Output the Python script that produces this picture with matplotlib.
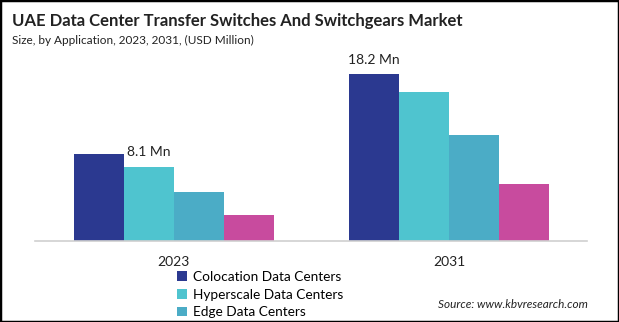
import matplotlib.pyplot as plt
import matplotlib.patches as mpatches
import numpy as np

# données
years = ['2023', '2031']
segments = ['Colocation Data Centers', 'Hyperscale Data Centers', 'Edge Data Centers', 'Others']
colocation = [9.5, 18.2]
hyperscale = [8.1, 16.2]
edge = [5.3, 11.6]
others = [2.8, 6.2]
colors = ['#2B3990', '#4FC4CF', '#4BACC6', '#C84B9E']

plt.rcParams['font.family'] = ['Lato', 'DejaVu Sans']

fig = plt.figure(figsize=(6.19, 3.22), dpi=100)
W, H = 619, 322
ax = fig.add_axes([35 / W, 1 - 241 / H, (587 - 35) / W, (241 - 60) / H])

x = np.arange(len(years))
w = 0.1815
series = [colocation, hyperscale, edge, others]
bars = []
for i, vals in enumerate(series):
    b = ax.bar(x + (i - 1.5) * w, vals, width=w, color=colors[i], label=segments[i])
    bars.append(b)

ax.set_xlim(-0.503, 1.501)
ax.set_ylim(0, 181 * 18.2 / 167)

# étiquettes de valeur (comme sur l'original)
ax.annotate('8.1 Mn', (x[0] - 0.5 * w, hyperscale[0]), xytext=(0, 6), textcoords='offset points',
            ha='center', va='bottom', fontsize=10, color='#222222')
ax.annotate('18.2 Mn', (x[1] - 1.5 * w, colocation[1]), xytext=(0, 6), textcoords='offset points',
            ha='center', va='bottom', fontsize=10, color='#222222')

for s in ['top', 'right', 'left']:
    ax.spines[s].set_visible(False)
ax.spines['bottom'].set_color('#D0D0D0')
ax.spines['bottom'].set_linewidth(1.2)
ax.set_yticks([])
ax.set_xticks(x)
ax.set_xticklabels(years, fontsize=10, color='#222222')
ax.tick_params(axis='x', length=0, pad=11)

fig.text(12 / W, 1 - 21 / H, 'UAE Data Center Transfer Switches And Switchgears Market',
         fontsize=12, fontweight='bold', color='#222222', va='center', ha='left')
fig.text(12 / W, 1 - 40 / H, 'Size, by Application, 2023, 2031, (USD Million)',
         fontsize=8.5, color='#222222', va='center', ha='left')

fig.legend(handles=bars[:3], labels=segments[:3], loc='upper left',
           bbox_to_anchor=(177 / W, 1 - 271 / H), frameon=False, fontsize=9.8,
           handlelength=0.7, handleheight=0.7, handletextpad=0.45, labelspacing=0.42,
           borderaxespad=0, borderpad=0)

fig.text(588 / W, 1 - 304 / H, 'Source: www.kbvresearch.com', fontsize=8.5, style='italic',
         color='#222222', ha='right', va='center')

fig.patches.append(mpatches.Rectangle((0, 0), 1, 1, transform=fig.transFigure, fill=False,
                                      edgecolor='black', linewidth=2.5))

fig.savefig('out.png', dpi=100)
